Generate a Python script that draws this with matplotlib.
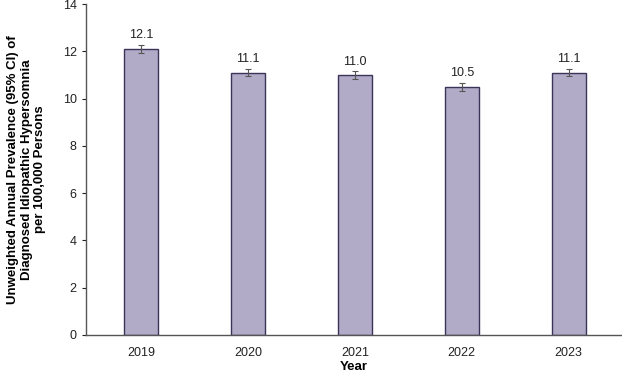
import matplotlib.pyplot as plt

years = ['2019', '2020', '2021', '2022', '2023']
prevalence = [12.1, 11.1, 11.0, 10.5, 11.1]
ci_half = [0.18, 0.16, 0.16, 0.16, 0.16]

plt.rcParams['font.family'] = ['Liberation Sans', 'DejaVu Sans']

fig = plt.figure(figsize=(6.22, 3.72), dpi=100)
ax = fig.add_axes([0.138, 0.0995, 0.862, 0.8895])

x = range(len(years))
ax.bar(x, prevalence, width=0.32, color='#b1abc8', edgecolor='#3b3358', linewidth=1.0,
       yerr=ci_half, error_kw=dict(ecolor='#555555', elinewidth=0.8, capsize=2, capthick=0.8))

for i, v in enumerate(prevalence):
    ax.text(i, v + ci_half[i] + 0.15, f'{v:.1f}', ha='center', va='bottom', fontsize=9, color='#222222')

ax.set_xlim(-0.52, 4.5)
ax.set_ylim(0, 14)
ax.set_yticks(range(0, 15, 2))
ax.set_xticks(list(x))
ax.set_xticklabels(years)
ax.tick_params(axis='x', length=0, pad=9, labelsize=9, colors='#222222')
ax.tick_params(axis='y', length=3, labelsize=9, colors='#222222', direction='out')
for s in ['top', 'right']:
    ax.spines[s].set_visible(False)
for s in ['left', 'bottom']:
    ax.spines[s].set_color('#555555')
    ax.spines[s].set_linewidth(1.0)

ax.set_xlabel('Year', fontsize=9.5, fontweight='bold', labelpad=1)
ax.set_ylabel('Unweighted Annual Prevalence (95% CI) of\nDiagnosed Idiopathic Hypersomnia\nper 100,000 Persons',
              fontsize=9.5, fontweight='bold', labelpad=12, linespacing=1.15)

fig.savefig('out.png', dpi=100)
